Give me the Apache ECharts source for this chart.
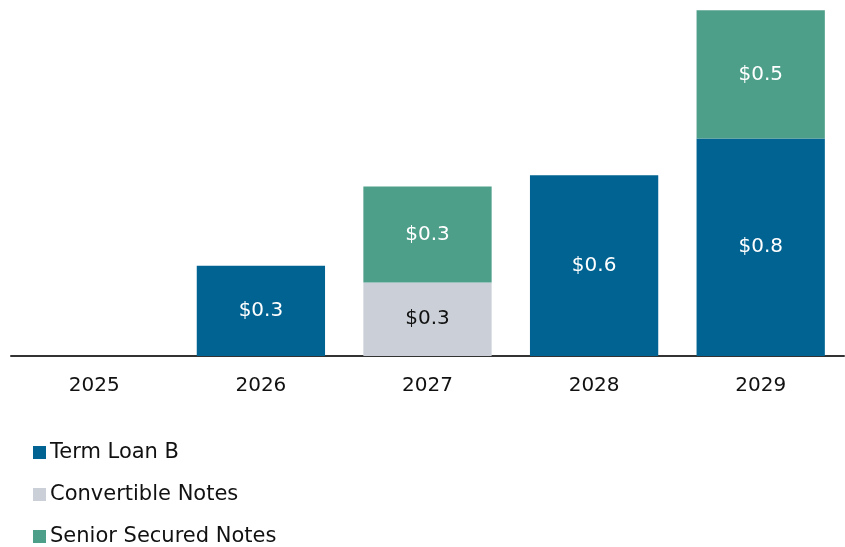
<!DOCTYPE html>
<html>
<head>
<meta charset="utf-8">
<script src="https://cdn.jsdelivr.net/npm/echarts@6/dist/echarts.min.js"></script>
<style>
  html, body { margin: 0; padding: 0; background: #fff; }
  #chart { width: 845px; height: 547px; }
</style>
</head>
<body>
<div id="chart"></div>
<script>
// data (billions)
var years = ['2025', '2026', '2027', '2028', '2029'];
var termLoanB = [0, 0.32, 0, 0.64, 0.77];
var convertibleNotes = [0, 0, 0.26, 0, 0];
var seniorSecuredNotes = [0, 0, 0.34, 0, 0.454];

var FONT = 'DejaVu Sans';

function labelFmt (p) {
  return p.value > 0 ? '$' + p.value.toFixed(1) : '';
}

function makeSeries (name, data, color, textColor) {
  return {
    name: name,
    type: 'bar',
    stack: 'total',
    barWidth: '77%',
    data: data,
    itemStyle: { color: color },
    label: {
      show: true,
      position: 'inside',
      formatter: labelFmt,
      color: textColor,
      fontFamily: FONT,
      fontSize: 20
    }
  }
}

var myChart = echarts.init(document.getElementById('chart'));
myChart.setOption({
  animation: false,
  grid: { left: 11, right: 1, top: 3, bottom: 191 },
  legend: {
    orient: 'vertical',
    left: 33,
    top: 442,
    height: 150,
    padding: 0,
    itemWidth: 13,
    itemHeight: 13,
    itemGap: 21,
    icon: 'rect',
    textStyle: { fontFamily: FONT, fontSize: 21, color: '#111', padding: [0, 0, 0, -1] },
    data: ['Term Loan B', 'Convertible Notes', 'Senior Secured Notes']
  },
  xAxis: {
    type: 'category',
    data: years,
    axisLine: { lineStyle: { color: '#333', width: 2 } },
    axisTick: { show: false },
    axisLabel: { color: '#111', fontFamily: FONT, fontSize: 20, margin: 20 }
  },
  yAxis: {
    type: 'value',
    min: 0,
    max: 1.25,
    show: false,
    splitLine: { show: false }
  },
  series: [
    makeSeries('Term Loan B', termLoanB, '#006391', '#fff'),
    makeSeries('Convertible Notes', convertibleNotes, '#cbd0d8', '#111'),
    makeSeries('Senior Secured Notes', seniorSecuredNotes, '#4e9f8a', '#fff')
  ]
});
</script>
</body>
</html>
